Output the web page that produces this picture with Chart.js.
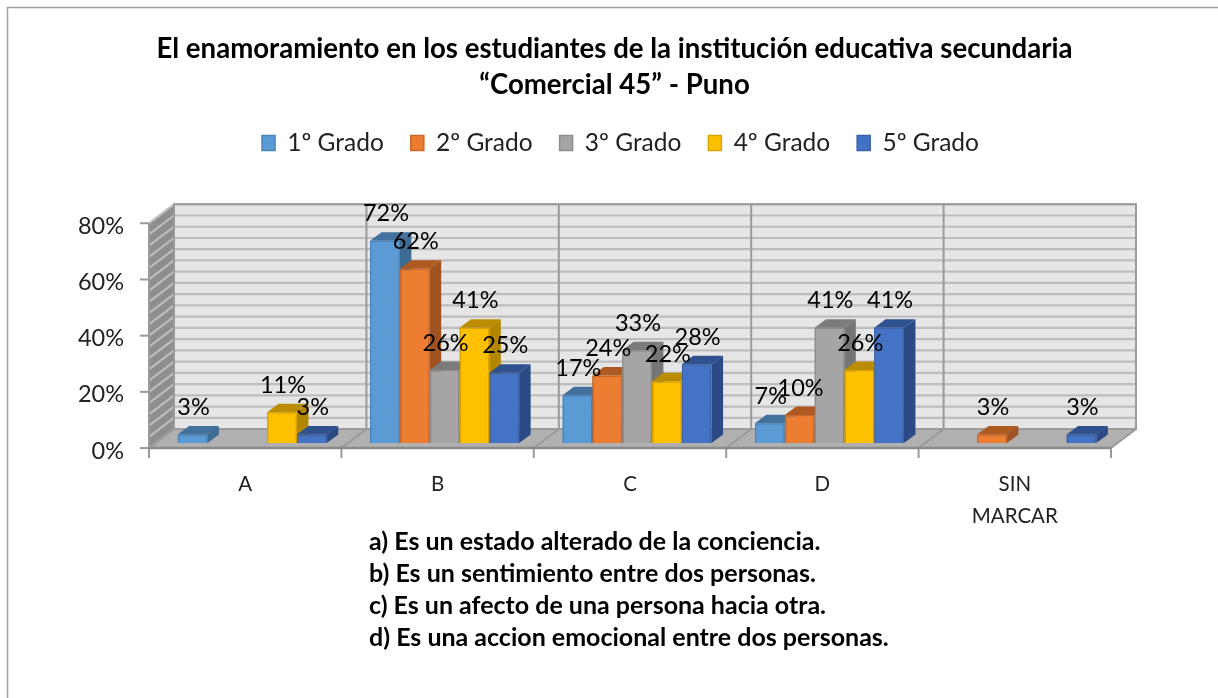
<!DOCTYPE html>
<html><head><meta charset="utf-8">
<script src="https://cdn.jsdelivr.net/npm/chart.js@4"></script>
<style>html,body{margin:0;padding:0;background:#fff}#w{position:relative;width:1218px;height:698px;overflow:hidden}canvas{display:block}</style>
</head><body><div id="w"><canvas id="c" width="1218" height="698"></canvas></div>
<script>
const categories = ['A','B','C','D',['SIN','MARCAR']];
const seriesNames = ['1º Grado','2º Grado','3º Grado','4º Grado','5º Grado'];
const grado1 = [3,72,17,7,null];
const grado2 = [null,62,24,10,3];
const grado3 = [null,26,33,41,null];
const grado4 = [11,41,22,26,null];
const grado5 = [3,25,28,41,3];
const yTicks = [0,20,40,60,80];
const titleLines = ['El enamoramiento en los estudiantes de la institución educativa secundaria','“Comercial 45” - Puno'];
const notes = ['a) Es un estado alterado de la conciencia.','b) Es un sentimiento entre dos personas.','c) Es un afecto de una persona hacia otra.','d) Es una accion emocional entre dos personas.'];
const noteY = [542,574,606,638];
const front = ['#5B9BD5','#ED7D31','#A5A5A5','#FFC000','#4472C4'];
const edge  = ['#4A83B8','#C9682A','#8C8C8C','#D9A300','#3A61A7'];
const topC  = ['#41719C','#AE5A21','#7B7B7B','#BC8C00','#2F528F'];
const sideC = ['#3E6B94','#A05220','#757575','#B38600','#2B4A85'];
const FONT = 'Lato, "Open Sans", sans-serif';
const SHIFT = 7, WX = 25, WY = 19, BX = 11.5, BY = 8.5;

const scene = {
  id:'scene',
  afterLayout(chart){
    const l = chart.legend; l.left += 6; l.right += 6; l.top -= 58; l.bottom -= 58;
  },
  beforeDatasetsDraw(chart){
    const {ctx, chartArea:a} = chart;
    const y = chart.scales.y;
    const L = a.left - SHIFT, R = a.right - SHIFT, y0 = y.getPixelForValue(0), yT = y.getPixelForValue(80);
    ctx.save();
    ctx.fillStyle = '#e6e6e6';
    ctx.fillRect(L+WX, yT-WY, R-L, y0-yT);
    ctx.fillStyle = '#8e8e8e';
    ctx.beginPath(); ctx.moveTo(L,yT); ctx.lineTo(L+WX,yT-WY); ctx.lineTo(L+WX,y0-WY); ctx.lineTo(L,y0); ctx.closePath(); ctx.fill();
    for(let v=0;v<=80;v+=4){
      const p = y.getPixelForValue(v);
      ctx.strokeStyle = '#bdbdbd'; ctx.lineWidth = 2.2;
      ctx.beginPath(); ctx.moveTo(L,p); ctx.lineTo(L+WX,p-WY); ctx.lineTo(R+WX,p-WY); ctx.stroke();
    }
    ctx.fillStyle = '#b0b0b0';
    ctx.beginPath(); ctx.moveTo(L,y0); ctx.lineTo(L+WX,y0-WY); ctx.lineTo(R+WX,y0-WY); ctx.lineTo(R,y0); ctx.closePath(); ctx.fill();
    const w = (R-L)/categories.length;
    ctx.strokeStyle = '#9a9a9a'; ctx.lineWidth = 2;
    for(let i=0;i<=categories.length;i++){
      const px = L + i*w;
      ctx.beginPath(); ctx.moveTo(px,y0); ctx.lineTo(px+WX,y0-WY); ctx.lineTo(px+WX,yT-WY); ctx.stroke();
      ctx.beginPath(); ctx.moveTo(px,y0); ctx.lineTo(px,y0+10); ctx.stroke();
    }
    ctx.strokeRect(L+WX,yT-WY,R-L,y0-yT);
    ctx.strokeStyle = '#8a8a8a'; ctx.lineWidth = 2.5;
    ctx.beginPath(); ctx.moveTo(L,y0); ctx.lineTo(R,y0); ctx.stroke();
    ctx.strokeStyle = '#9a9a9a'; ctx.lineWidth = 2;
    ctx.beginPath(); ctx.moveTo(L,yT); ctx.lineTo(L,y0); ctx.stroke();
    yTicks.forEach(v=>{const p=y.getPixelForValue(v);ctx.beginPath();ctx.moveTo(L-9,p);ctx.lineTo(L,p);ctx.stroke();});
    ctx.restore();
  },
  afterDatasetsDraw(chart){
    const ctx = chart.ctx;
    ctx.save();
    chart.data.datasets.forEach((ds,i)=>{
      chart.getDatasetMeta(i).data.forEach((el,j)=>{
        if(ds.data[j]==null) return;
        const l=el.x-el.width/2, r=el.x+el.width/2, t=el.y, b=el.base;
        ctx.fillStyle=topC[i];
        ctx.beginPath();ctx.moveTo(l,t);ctx.lineTo(l+BX,t-BY);ctx.lineTo(r+BX,t-BY);ctx.lineTo(r,t);ctx.closePath();ctx.fill();
        ctx.fillStyle=sideC[i];
        ctx.beginPath();ctx.moveTo(r,t);ctx.lineTo(r+BX,t-BY);ctx.lineTo(r+BX,b-BY);ctx.lineTo(r,b);ctx.closePath();ctx.fill();
        el.draw(ctx);
      });
    });
    ctx.fillStyle='#000'; ctx.font='23.5px '+FONT; ctx.textAlign='center'; ctx.textBaseline='middle';
    chart.data.datasets.forEach((ds,i)=>{
      chart.getDatasetMeta(i).data.forEach((el,j)=>{
        if(ds.data[j]==null) return;
        ctx.fillText(ds.data[j]+'%', el.x+1, el.y-27);
      });
    });
    ctx.font='bold 25px '+FONT; ctx.textAlign='left';
    notes.forEach((n,k)=>ctx.fillText(n,369,noteY[k]));
    ctx.strokeStyle='#a0a0a0'; ctx.lineWidth=1.5;
    ctx.beginPath();ctx.moveTo(7.5,698);ctx.lineTo(7.5,7.5);ctx.lineTo(1218,7.5);ctx.stroke();
    ctx.restore();
  }
};
const all = [grado1,grado2,grado3,grado4,grado5];
new Chart(document.getElementById('c'),{
  type:'bar',
  data:{labels:categories,datasets:seriesNames.map((n,i)=>({
    label:n,data:all[i],yAxisID:'yBars',
    backgroundColor:front[i],borderColor:edge[i],borderWidth:1.5,
    categoryPercentage:0.775,barPercentage:1
  }))},
  options:{
    responsive:false,animation:false,
    layout:{padding:{left:11,right:0,top:31,bottom:154}},
    plugins:{
      tooltip:{enabled:false},
      title:{display:true,text:titleLines,color:'#000',font:{family:FONT,weight:'bold',size:27.6,lineHeight:1.3},padding:{top:0,bottom:59}},
      legend:{position:'top',labels:{color:'#222',font:{family:FONT,size:24.5},boxWidth:13,boxHeight:15,padding:27,
        generateLabels(chart){return seriesNames.map((n,i)=>({text:n,fillStyle:front[i],strokeStyle:edge[i],lineWidth:1.5,datasetIndex:i,fontColor:'#222'}));}}}
    },
    scales:{
      x:{grid:{display:false},border:{display:false},
         ticks:{color:'#222',font:{family:FONT,size:20.5,lineHeight:1.56},labelOffset:-SHIFT,padding:12,maxRotation:0,autoSkip:false}},
      y:{min:0,max:80,position:'left',grid:{display:false,drawTicks:false},border:{display:false},
         afterFit(s){s.width=145;},
         ticks:{stepSize:20,padding:32,labelOffset:3,color:'#222',font:{family:FONT,size:23.5},callback:v=>v+'%'}},
      yBars:{position:'right',min:-1.78,max:78.22,grid:{display:false,drawTicks:false},border:{display:false},
         ticks:{display:false},afterFit(s){s.width=100;}}
    }
  },
  plugins:[scene]
});
</script></body></html>
